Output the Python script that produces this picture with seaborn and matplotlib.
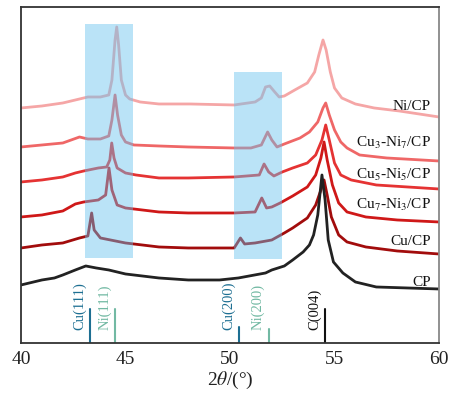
import matplotlib
matplotlib.use("Agg")
import matplotlib.pyplot as plt
import seaborn as sns
import pandas as pd
from matplotlib.patches import Rectangle

# ---- XRD patterns (2theta in degrees, intensity in a.u., already offset) ----
tt_ni = [40.0, 41.0, 42.0, 42.8, 43.2, 43.8, 44.2, 44.35, 44.5, 44.58, 44.67, 44.8, 45.0, 45.2,
         45.7, 46.6, 48.1, 50.2, 51.2, 51.5, 51.7, 51.9, 52.1, 52.35, 52.6, 53.1, 53.7, 54.05,
         54.25, 54.45, 54.6, 54.8, 55.0, 55.35, 56.0, 56.9, 58.1, 60.0]
i_ni = [235, 237, 240, 244, 246, 246, 248, 263, 303, 316, 298, 263, 248, 244,
        241, 239, 239, 238, 241, 245, 256, 257, 252, 246, 247, 253, 260, 271,
        288, 303, 293, 271, 255, 245, 239, 235, 232, 226]

tt_cu3ni7 = [40.0, 41.0, 42.0, 42.8, 43.2, 43.8, 44.2, 44.35, 44.5, 44.62, 44.8, 45.0, 45.4,
             46.6, 48.0, 50.2, 51.0, 51.5, 51.8, 52.0, 52.25, 52.6, 53.35, 53.8, 54.2, 54.45,
             54.58, 54.75, 55.0, 55.3, 55.6, 56.2, 57.5, 60.0]
i_cu3ni7 = [196, 198, 200, 206, 204, 204, 207, 223, 248, 228, 208, 201, 198,
            197, 196, 195, 195, 198, 211, 203, 196, 199, 205, 211, 221, 235,
            240, 228, 213, 201, 195, 188, 185, 182]

tt_cu5ni5 = [40.0, 41.0, 42.0, 42.6, 43.0, 43.7, 44.1, 44.25, 44.34, 44.45, 44.6, 45.0, 45.5,
             46.6, 48.0, 50.2, 51.4, 51.63, 51.85, 52.1, 52.5, 53.0, 53.7, 54.1, 54.4, 54.58,
             54.75, 55.0, 55.3, 55.8, 57.0, 60.0]
i_cu5ni5 = [161, 163, 166, 170, 172, 175, 176, 183, 200, 185, 175, 170, 168,
            165, 165, 166, 168, 179, 171, 167, 171, 175, 180, 188, 203, 218,
            203, 180, 168, 163, 158, 154]

tt_cu7ni3 = [40.0, 41.0, 42.0, 42.6, 43.0, 43.7, 44.05, 44.21, 44.35, 44.6, 45.0, 46.6, 48.0,
             50.2, 51.2, 51.52, 51.75, 52.0, 52.4, 53.0, 53.7, 54.1, 54.35, 54.5, 54.65,
             54.9, 55.2, 55.6, 56.5, 58.0, 60.0]
i_cu7ni3 = [126, 128, 132, 139, 141, 143, 148, 175, 153, 138, 135, 131, 130,
            130, 131, 145, 135, 136, 140, 147, 156, 168, 185, 201, 183,
            158, 140, 131, 126, 123, 121]

tt_cu = [40.0, 41.0, 42.0, 42.8, 43.2, 43.38, 43.5, 43.8, 45.0, 46.6, 48.0, 50.2, 50.5, 50.7,
         51.2, 52.0, 52.6, 53.0, 53.7, 54.1, 54.35, 54.5, 54.65, 54.85, 55.2, 55.6, 56.5,
         58.0, 60.0]
i_cu = [95, 98, 100, 105, 107, 130, 113, 105, 100, 96, 95, 95, 105, 99,
        100, 103, 110, 115, 125, 138, 153, 163, 148, 126, 108, 101, 96,
        92, 89]

tt_cp = [40.0, 41.0, 41.6, 42.0, 42.6, 43.1, 43.6, 44.2, 45.0, 46.6, 48.0, 49.5, 50.4, 51.7,
         52.0, 52.6, 53.0, 53.5, 53.8, 54.0, 54.2, 54.4, 54.55, 54.7, 54.95, 55.4, 56.0,
         57.0, 60.0]
i_cp = [58, 63, 65, 68, 73, 77, 75, 73, 69, 65, 63, 63, 65, 70,
        73, 77, 83, 91, 98, 108, 128, 168, 143, 103, 81, 70, 61,
        56, 54]

sample_names = ["Ni/CP", "Cu$_3$-Ni$_7$/CP", "Cu$_5$-Ni$_5$/CP",
                "Cu$_7$-Ni$_3$/CP", "Cu/CP", "CP"]
sample_colors = ["#f5a6a6", "#ef6767", "#e53333", "#cf1818", "#a20c0c", "#222222"]
label_levels = [236, 200, 168, 138, 101, 60]

# standard reflections
ref_names = ["Cu(111)", "Ni(111)", "Cu(200)", "Ni(200)", "C(004)"]
ref_pos = [43.3, 44.5, 50.43, 51.85, 54.55]
ref_height = [34, 34, 16, 14, 34]
ref_colors = ["#1d6f92", "#72b9a3", "#1d6f92", "#72b9a3", "#111111"]

# highlighted 2theta windows
band_x0 = [43.05, 50.2]
band_x1 = [45.35, 52.47]
band_y0 = [85, 84]
band_y1 = [319, 271]

sns.set_theme(style="white")
plt.rcParams["font.family"] = ["Liberation Serif", "DejaVu Serif"]
plt.rcParams["mathtext.fontset"] = "stix"

fig = plt.figure(figsize=(4.49, 3.99), dpi=100)
ax = fig.add_axes([0.0468, 0.1404, 0.9309, 0.8421])

series = [(tt_ni, i_ni), (tt_cu3ni7, i_cu3ni7), (tt_cu5ni5, i_cu5ni5),
          (tt_cu7ni3, i_cu7ni3), (tt_cu, i_cu), (tt_cp, i_cp)]
for (tt, inten), name, col in zip(series, sample_names, sample_colors):
    df = pd.DataFrame({"two_theta": tt, "intensity": inten})
    sns.lineplot(data=df, x="two_theta", y="intensity", color=col, linewidth=2.0,
                 sort=False, estimator=None, ax=ax, zorder=2)

for name, lvl in zip(sample_names, label_levels):
    ax.text(59.6, lvl, name, ha="right", va="center", fontsize=11, color="#111111")

for x0, x1, y0, y1 in zip(band_x0, band_x1, band_y0, band_y1):
    ax.add_patch(Rectangle((x0, y0), x1 - x0, y1 - y0, facecolor="#66c2ee",
                           edgecolor="none", alpha=0.45, zorder=3))

for name, pos, h, col in zip(ref_names, ref_pos, ref_height, ref_colors):
    ax.plot([pos, pos], [0, h], color=col, linewidth=1.5, zorder=2)
    ax.text(pos - 0.5, 13, name, rotation=90, ha="center", va="bottom",
            fontsize=10.5, color=col)

ax.set_xlim(40, 60)
ax.set_ylim(0, 336)
ax.set_xticks([40, 45, 50, 55, 60])
ax.set_yticks([])
ax.tick_params(axis="x", direction="in", length=4, width=1.2, colors="#333333",
               labelsize=14, labelcolor="#222222", pad=6)
ax.set_xlabel("2$\\theta$/(°)", fontsize=14, color="#222222", labelpad=1)
ax.set_ylabel("")
for side, spine in ax.spines.items():
    spine.set_linewidth(1.3)
    spine.set_color("#888888" if side == "right" else "#333333")

fig.savefig("out.png", dpi=100)
